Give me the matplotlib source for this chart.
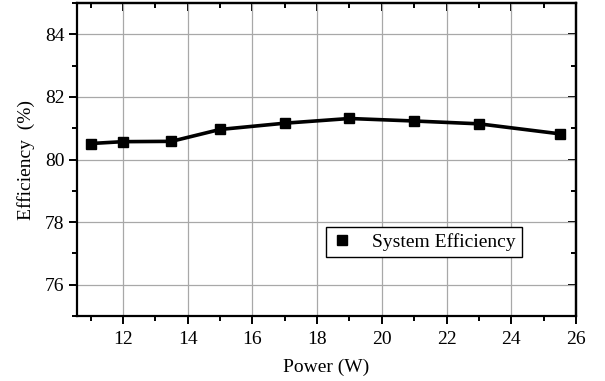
import matplotlib
matplotlib.use("Agg")
import matplotlib.pyplot as plt
from matplotlib.lines import Line2D
from matplotlib.ticker import MultipleLocator

power = [11, 12, 13.5, 15, 17, 19, 21, 23, 25.5]
efficiency = [80.51, 80.57, 80.58, 80.96, 81.16, 81.31, 81.23, 81.14, 80.82]
series_label = "System Efficiency"
xlabel = "Power (W)"
ylabel = "Efficiency  (%)"

plt.rcParams['font.family'] = ['Liberation Serif', 'DejaVu Serif']

fig = plt.figure(figsize=(6.05, 3.81), dpi=100)
ax = fig.add_axes([77/605, 65/381, 499/605, 313/381])

ax.plot(power, efficiency, color='black', lw=2.6, marker='s', ms=6.5, zorder=3)

ax.set_xlim(10.58, 26)
ax.set_ylim(75, 85)
ax.xaxis.set_major_locator(MultipleLocator(2))
ax.xaxis.set_minor_locator(MultipleLocator(1))
ax.yaxis.set_major_locator(MultipleLocator(2))
ax.yaxis.set_minor_locator(MultipleLocator(1))

ax.grid(True, which='major', color='#a8a8a8', lw=0.9)
ax.set_axisbelow(True)

for s in ax.spines.values():
    s.set_linewidth(1.6)

fs = 14
ax.tick_params(which='both', direction='out', width=1.4, labelsize=fs, top=False, right=False)
ax.tick_params(axis='x', pad=5)
ax.tick_params(which='major', length=5.5)
ax.tick_params(which='minor', length=3.5)

axt = ax.secondary_xaxis('top')
axt.xaxis.set_major_locator(MultipleLocator(2))
axt.xaxis.set_minor_locator(MultipleLocator(1))
axt.tick_params(which='both', direction='in', width=1.4, labeltop=False)
axt.tick_params(which='major', length=5.5)
axt.tick_params(which='minor', length=3.5)
axr = ax.secondary_yaxis('right')
axr.yaxis.set_major_locator(MultipleLocator(2))
axr.yaxis.set_minor_locator(MultipleLocator(1))
axr.tick_params(which='both', direction='in', width=1.4, labelright=False)
axr.tick_params(which='major', length=5.5)
axr.tick_params(which='minor', length=3.5)
for sa in (axt, axr):
    for s in sa.spines.values():
        s.set_linewidth(1.6)

ax.set_xlabel(xlabel, fontsize=fs, labelpad=8)
ax.set_ylabel(ylabel, fontsize=fs, labelpad=7)

handle = Line2D([], [], color='black', marker='s', ls='none', ms=6.5)
leg = ax.legend([handle], [series_label], loc='lower left', bbox_to_anchor=(0.50, 0.19),
                fontsize=fs, frameon=True, fancybox=False, framealpha=1,
                edgecolor='black', borderpad=0.3, handlelength=1.0, handletextpad=1.05,
                borderaxespad=0)
leg.get_frame().set_linewidth(1.0)

fig.savefig("out.png", dpi=100)
